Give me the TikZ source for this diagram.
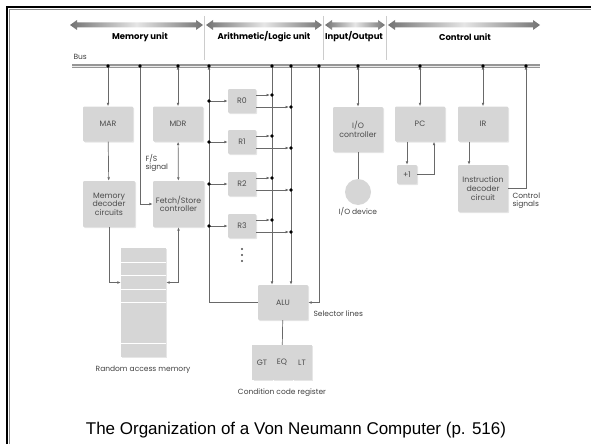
\documentclass[tikz,border=0pt]{standalone}
\usepackage{fontspec}
\setmainfont{Liberation Sans}
\newfontfamily\futura{Poppins}
\usetikzlibrary{arrows.meta,shadows}
\definecolor{boxgray}{RGB}{214,214,214}
\definecolor{wiregray}{RGB}{105,105,105}
\definecolor{busgray}{RGB}{150,150,150}
\definecolor{hdrgray}{RGB}{115,115,115}

\tikzset{
  unit/.style={fill=boxgray, rounded corners=1pt, minimum width=50pt, minimum height=35pt,
    align=center, text=black!70, inner sep=1pt, font=\futura\fontsize{7.8}{8.6}\selectfont,
    drop shadow={opacity=0.2, shadow xshift=1.2pt, shadow yshift=-1.2pt}},
  reg/.style={unit, minimum width=28pt, minimum height=24pt},
  wire/.style={draw=wiregray, line width=0.7pt},
  lbl/.style={font=\futura\fontsize{7.5}{8.3}\selectfont, text=black!75, align=left},
  hdr/.style={font=\futura\bfseries\fontsize{8.5}{9.5}\selectfont},
  divider/.style={draw=black!20, line width=0.6pt}
}

\begin{document}
\begin{tikzpicture}[x=1pt, y=-1pt, >={Latex[length=3.5pt,width=2.8pt]}]
  \useasboundingbox (0,0) rectangle (591,444);
  % slide frame
  \draw[black!45, line width=1pt] (9.5,444) -- (9.5,9.5) -- (591,9.5);
  \draw[line width=2.5pt] (7,444) -- (7,7) -- (591,7);

  % unit headings
  \shade[left color=hdrgray, right color=hdrgray, middle color=black!10] (70,25) -- (77,20) -- (77,22.5) -- (196,22.5) -- (196,20) -- (203,25) -- (196,30) -- (196,27.5) -- (77,27.5) -- (77,30) -- cycle;
  \shade[left color=hdrgray, right color=hdrgray, middle color=black!10] (206,25) -- (213,20) -- (213,22.5) -- (315,22.5) -- (315,20) -- (322,25) -- (315,30) -- (315,27.5) -- (213,27.5) -- (213,30) -- cycle;
  \shade[left color=hdrgray, right color=hdrgray, middle color=black!10] (325,25) -- (332,20) -- (332,22.5) -- (378,22.5) -- (378,20) -- (385,25) -- (378,30) -- (378,27.5) -- (332,27.5) -- (332,30) -- cycle;
  \shade[left color=hdrgray, right color=hdrgray, middle color=black!10] (388,25) -- (395,20) -- (395,22.5) -- (533,22.5) -- (533,20) -- (540,25) -- (533,30) -- (533,27.5) -- (395,27.5) -- (395,30) -- cycle;
  \draw[divider] (204,16) -- (204,60);
  \draw[divider] (323,16) -- (323,60);
  \draw[divider] (386,16) -- (386,60);
  \node[hdr] (memhdr) at (140,37) {Memory unit};
  \node[hdr] (aluhdr) at (264,37) {Arithmetic/Logic unit};
  \node[hdr] (iohdr) at (354,37) {Input/Output};
  \node[hdr] (cuhdr) at (465,37) {Control unit};

  % bus
  \node[lbl, anchor=west] (buslbl) at (70,57) {Bus};
  \draw[busgray, line width=4.5pt] (72,66) -- (540,66);
  \draw[black!8, line width=1pt] (72,66) -- (540,66);
  \coordinate (t1) at (108,66);
  \coordinate (t2) at (140,66);
  \coordinate (t3) at (178,66);
  \coordinate (t4) at (209,66);
  \coordinate (t5) at (272,66);
  \coordinate (t6) at (291,66);
  \coordinate (t7) at (319,66);
  \coordinate (t8) at (358,66);
  \coordinate (t9) at (420,66);
  \coordinate (t10) at (483,66);
  \coordinate (t11) at (526,66);

  % memory unit
  \node[unit] (mar) at (108,124) {MAR};
  \node[unit] (mdr) at (178,124) {MDR};
  \node[unit, minimum width=52pt, minimum height=46pt] (mdc) at (109,204) {Memory\\decoder\\circuits};
  \node[unit, minimum width=51pt, minimum height=46pt] (fsc) at (178.5,204) {Fetch/Store\\controller};
  \node[fill=boxgray, minimum width=45pt, minimum height=109pt,
    drop shadow={opacity=0.2, shadow xshift=1.2pt, shadow yshift=-1.2pt}] (ram) at (143.5,302.5) {};
  \foreach \y in {262,275,289,302,343}
    \draw[white, line width=1pt] (121,\y) -- (166,\y);
  \node[lbl] (ramlbl) at (143,370) {Random access memory};
  \node[lbl, anchor=west] (fslbl) at (142,163) {F/S\\signal};

  \draw[wire, ->] (t1) -- (mar.north);
  \draw[wire, <->] (t3) -- (mdr.north);
  \draw[wire, ->] (t2) |- (fsc.west);
  \draw[wire, ->] (mar) -- (mdc);
  \draw[wire, <->] (mdr) -- (fsc);
  \draw[wire, ->] (mdc.south) |- ([yshift=20pt]ram.west);
  \draw[wire, <->] ([yshift=20pt]ram.east) -| (fsc.south);

  % arithmetic/logic unit
  \node[reg] (r0) at (242,101) {R0};
  \node[reg] (r1) at (242,142) {R1};
  \node[reg] (r2) at (242,184) {R2};
  \node[reg] (r3) at (242,226) {R3};
  \coordinate (rdots) at (242,255);
  \fill[black!70] (rdots) ++(0,-6) circle (1.1pt) (rdots) circle (1.1pt) (rdots) ++(0,6) circle (1.1pt);
  \node[unit] (alu) at (283,302.5) {ALU};
  \node[unit, minimum width=19.4pt, rounded corners=0pt] (gt) at (262,362.5) {GT};
  \node[unit, minimum width=19.4pt, rounded corners=0pt] (eq) at (282,362.5) {EQ};
  \node[unit, minimum width=19.4pt, rounded corners=0pt] (lt) at (302,362.5) {LT};
  \node[lbl] (ccrlbl) at (282,393) {Condition code register};
  \node[lbl, anchor=west] (sellbl) at (310,314) {Selector lines};

  \draw[wire, ->] (alu.west) -| (t4);
  \draw[wire, ->] (t5) -- (t5 |- alu.north);
  \draw[wire, ->] (t6) -- (t6 |- alu.north);
  \draw[wire, ->] (t7) |- (alu.east);
  \draw[wire] (alu) -- (eq);
  \foreach \r in {r0,r1,r2,r3}{
    \draw[wire, ->] (\r.west -| t4) -- (\r.west);
    \draw[wire, ->, shorten >=2pt] ([yshift=6pt]\r.east) -- ([yshift=6pt]\r.east -| t5);
    \draw[wire, ->, shorten >=2pt] ([yshift=-6pt]\r.east) -- ([yshift=-6pt]\r.east -| t6);
    \fill (\r.west -| t4) circle (1.8pt) ([yshift=6pt]\r.east -| t5) circle (1.8pt)
      ([yshift=-6pt]\r.east -| t6) circle (1.8pt);
  }

  % input/output
  \node[unit, minimum height=45pt] (ioc) at (358,129.5) {I/O\\controller};
  \node[circle, fill=boxgray, minimum size=26pt] (iod) at (358,192) {};
  \node[lbl] (iodlbl) at (358,212) {I/O device};
  \draw[wire, <->] (t8) -- (ioc.north);
  \draw[wire] (ioc) -- (iod);

  % control unit
  \node[unit] (pc) at (420,124) {PC};
  \node[unit] (ir) at (483,124) {IR};
  \node[unit, minimum width=20pt, minimum height=19pt] (inc) at (407,174.5) {+1};
  \node[unit, minimum width=50pt, minimum height=47pt] (idc) at (483,188.5) {Instruction\\decoder\\circuit};
  \node[lbl, anchor=west] (ctllbl) at (509,201) {Control\\signals};
  \draw[wire, <->] (t9) -- (pc.north);
  \draw[wire, <->] (t10) -- (ir.north);
  \draw[wire, ->] (pc.south -| inc) -- (inc.north);
  \draw[wire, ->] (inc.east) -| ([xshift=14pt]pc.south);
  \draw[wire, ->] ([xshift=-14pt]ir.south) -- ([xshift=-14pt]idc.north);
  \draw[wire, ->] (idc.east) -| (t11);

  % bus taps
  \fill (t1) circle (1.8pt) (t2) circle (1.8pt) (t3) circle (1.8pt) (t4) circle (1.8pt)
    (t5) circle (1.8pt) (t6) circle (1.8pt) (t7) circle (1.8pt) (t8) circle (1.8pt)
    (t9) circle (1.8pt) (t10) circle (1.8pt) (t11) circle (1.8pt);

  \node[font=\fontsize{17}{20}\selectfont] (caption) at (296,430) {The Organization of a Von Neumann Computer (p. 516)};
\end{tikzpicture}
\end{document}
